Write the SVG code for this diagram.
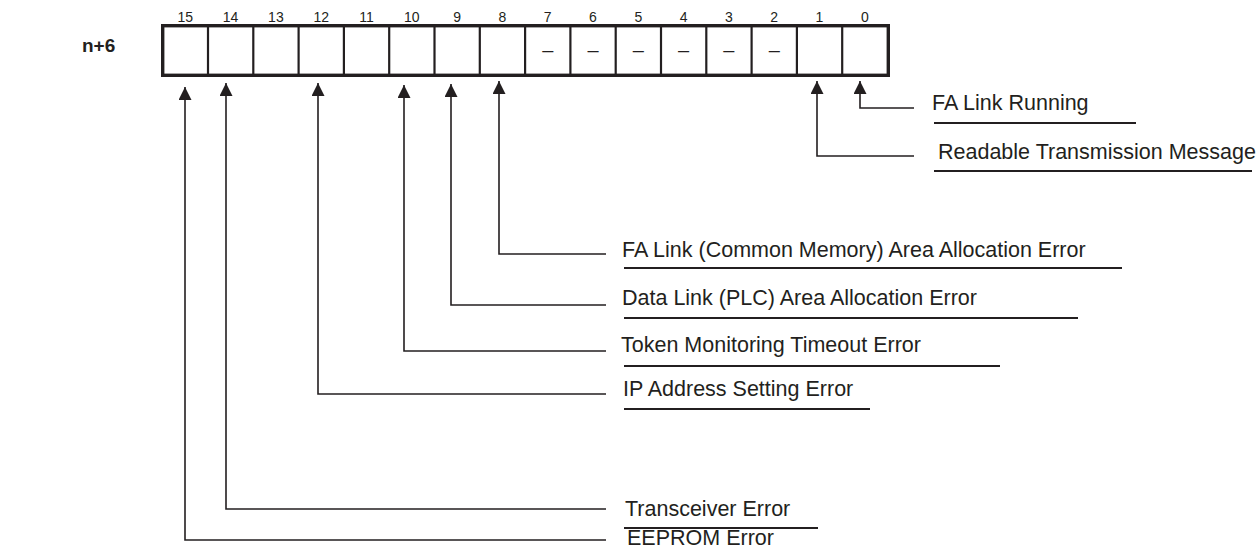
<svg xmlns="http://www.w3.org/2000/svg" width="1260" height="551" viewBox="0 0 1260 551">
<style>
.num{font-family:"Liberation Sans",Arial,sans-serif;font-size:14px;fill:#231f20;text-anchor:middle}
.lbl{font-family:"Liberation Sans",Arial,sans-serif;font-size:21.5px;fill:#231f20}
.dash{font-family:"Liberation Sans",Arial,sans-serif;font-size:20px;fill:#231f20;text-anchor:middle}
.title{font-family:"Liberation Sans",Arial,sans-serif;font-size:19px;font-weight:bold;fill:#231f20}
.lead{fill:none;stroke:#231f20;stroke-width:1.6}
.ul{stroke:#231f20;stroke-width:2.2}
.cell{stroke:#231f20;stroke-width:2.2}
</style>
<defs>
<marker id="ah" markerUnits="userSpaceOnUse" markerWidth="13" markerHeight="13" viewBox="0 0 13 13" refX="13" refY="6.5" orient="auto">
<path d="M0,0 L13,6.5 L0,13 z" fill="#231f20"/>
</marker>
</defs>
<rect width="1260" height="551" fill="#ffffff"/>
<g id="title"><text class="title" x="82" y="52">n+6</text></g>
<g id="register">
<rect x="162.7" y="25.7" width="725.6" height="49.6" fill="none" stroke="#231f20" stroke-width="3.4"/>
<line class="cell" x1="208" y1="26" x2="208" y2="75"/>
<line class="cell" x1="253.3" y1="26" x2="253.3" y2="75"/>
<line class="cell" x1="298.6" y1="26" x2="298.6" y2="75"/>
<line class="cell" x1="343.9" y1="26" x2="343.9" y2="75"/>
<line class="cell" x1="389.2" y1="26" x2="389.2" y2="75"/>
<line class="cell" x1="434.5" y1="26" x2="434.5" y2="75"/>
<line class="cell" x1="479.8" y1="26" x2="479.8" y2="75"/>
<line class="cell" x1="525.1" y1="26" x2="525.1" y2="75"/>
<line class="cell" x1="570.4" y1="26" x2="570.4" y2="75"/>
<line class="cell" x1="615.7" y1="26" x2="615.7" y2="75"/>
<line class="cell" x1="661" y1="26" x2="661" y2="75"/>
<line class="cell" x1="706.3" y1="26" x2="706.3" y2="75"/>
<line class="cell" x1="751.6" y1="26" x2="751.6" y2="75"/>
<line class="cell" x1="796.9" y1="26" x2="796.9" y2="75"/>
<line class="cell" x1="842.2" y1="26" x2="842.2" y2="75"/>
<text class="num" x="185.3" y="21.5">15</text>
<text class="num" x="230.6" y="21.5">14</text>
<text class="num" x="275.9" y="21.5">13</text>
<text class="num" x="321.2" y="21.5">12</text>
<text class="num" x="366.5" y="21.5">11</text>
<text class="num" x="411.8" y="21.5">10</text>
<text class="num" x="457.1" y="21.5">9</text>
<text class="num" x="502.4" y="21.5">8</text>
<text class="num" x="547.7" y="21.5">7</text>
<text class="num" x="593" y="21.5">6</text>
<text class="num" x="638.3" y="21.5">5</text>
<text class="num" x="683.6" y="21.5">4</text>
<text class="num" x="728.9" y="21.5">3</text>
<text class="num" x="774.2" y="21.5">2</text>
<text class="num" x="819.5" y="21.5">1</text>
<text class="num" x="864.8" y="21.5">0</text>
<text class="dash" x="547.7" y="57.4">–</text>
<text class="dash" x="593" y="57.4">–</text>
<text class="dash" x="638.3" y="57.4">–</text>
<text class="dash" x="683.6" y="57.4">–</text>
<text class="dash" x="728.9" y="57.4">–</text>
<text class="dash" x="774.2" y="57.4">–</text>
</g>
<g id="connectors">
<path class="lead" d="M914 108 H860 V81" marker-end="url(#ah)"/>
<path class="lead" d="M914 156 H817 V81" marker-end="url(#ah)"/>
<path class="lead" d="M606 254 H499 V81" marker-end="url(#ah)"/>
<path class="lead" d="M606 305 H451 V84" marker-end="url(#ah)"/>
<path class="lead" d="M606 351 H404 V85" marker-end="url(#ah)"/>
<path class="lead" d="M606 394 H318 V83" marker-end="url(#ah)"/>
<path class="lead" d="M606 509 H226 V83" marker-end="url(#ah)"/>
<path class="lead" d="M606 540 H185 V87" marker-end="url(#ah)"/>
</g>
<g id="bit0"><text class="lbl" x="932" y="110">FA Link Running</text><line class="ul" x1="934" y1="123" x2="1136" y2="123"/></g>
<g id="bit1"><text class="lbl" x="938" y="159">Readable Transmission Message</text><line class="ul" x1="934" y1="171" x2="1252" y2="171"/></g>
<g id="bit8"><text class="lbl" x="622" y="257">FA Link (Common Memory) Area Allocation Error</text><line class="ul" x1="624" y1="268" x2="1122" y2="268"/></g>
<g id="bit9"><text class="lbl" x="622" y="305">Data Link (PLC) Area Allocation Error</text><line class="ul" x1="624" y1="318" x2="1078" y2="318"/></g>
<g id="bit10"><text class="lbl" x="621" y="352">Token Monitoring Timeout Error</text><line class="ul" x1="624" y1="366" x2="1000" y2="366"/></g>
<g id="bit12"><text class="lbl" x="623" y="396">IP Address Setting Error</text><line class="ul" x1="624" y1="409" x2="870" y2="409"/></g>
<g id="bit14"><text class="lbl" x="625" y="516">Transceiver Error</text><line class="ul" x1="624" y1="528" x2="818" y2="528"/></g>
<g id="bit15"><text class="lbl" x="627" y="545">EEPROM Error</text></g>
</svg>
